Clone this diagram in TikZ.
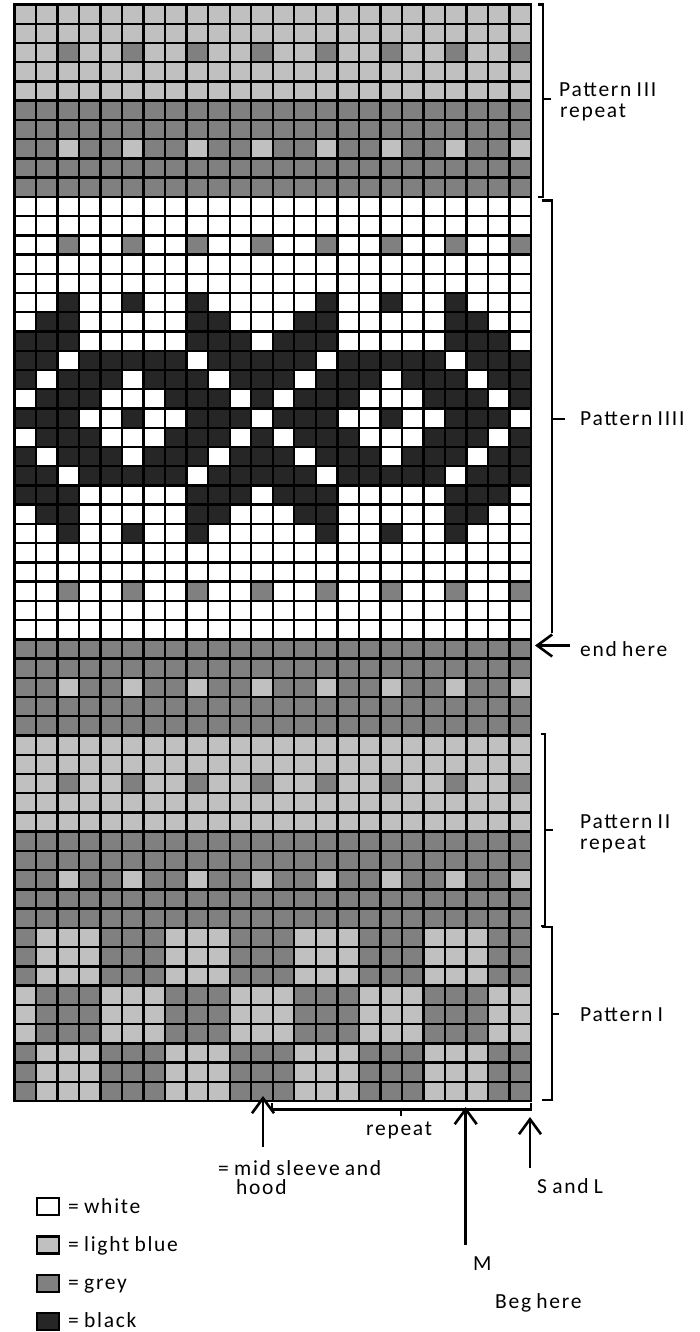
\documentclass[tikz,border=0pt]{standalone}
\usepackage{fontspec}
\setmainfont{Carlito}[LetterSpace=8,WordSpace=0.8]
\usetikzlibrary{arrows.meta}
\definecolor{cW}{HTML}{FFFFFF}
\definecolor{cL}{HTML}{C0C0C0}
\definecolor{cG}{HTML}{808080}
\definecolor{cB}{HTML}{262626}
\def\rowA{L,L,L,L,L,L,L,L,L,L,L,L,L,L,L,L,L,L,L,L,L,L,L,L}
\def\rowB{L,L,G,L,L,G,L,L,G,L,L,G,L,L,G,L,L,G,L,L,G,L,L,G}
\def\rowC{G,G,G,G,G,G,G,G,G,G,G,G,G,G,G,G,G,G,G,G,G,G,G,G}
\def\rowD{G,G,L,G,G,L,G,G,L,G,G,L,G,G,L,G,G,L,G,G,L,G,G,L}
\def\rowE{W,W,W,W,W,W,W,W,W,W,W,W,W,W,W,W,W,W,W,W,W,W,W,W}
\def\rowF{W,W,G,W,W,G,W,W,G,W,W,G,W,W,G,W,W,G,W,W,G,W,W,G}
\def\rowMa{W,W,B,W,W,B,W,W,B,W,W,W,W,W,B,W,W,B,W,W,B,W,W,W}
\def\rowMb{W,B,B,W,W,W,W,W,B,B,W,W,W,B,B,W,W,W,W,W,B,B,W,W}
\def\rowMc{B,B,B,W,W,W,W,W,B,B,B,W,B,B,B,W,W,W,W,W,B,B,B,W}
\def\rowMd{B,B,W,B,B,B,B,B,W,B,B,B,B,B,W,B,B,B,B,B,W,B,B,B}
\def\rowMe{B,W,B,B,B,W,B,B,B,W,B,B,B,W,B,B,B,W,B,B,B,W,B,B}
\def\rowMf{W,B,B,B,W,W,W,B,B,B,W,B,W,B,B,B,W,W,W,B,B,B,W,B}
\def\rowMg{B,B,B,W,W,B,W,W,B,B,B,W,B,B,B,W,W,B,W,W,B,B,B,W}
\def\rowPa{G,L,L,L,G,G,G,L,L,L,G,G,G,L,L,L,G,G,G,L,L,L,G,G}
\def\rowPb{L,G,G,G,L,L,L,G,G,G,L,L,L,G,G,G,L,L,L,G,G,G,L,L}
\def\gx{14.5}
\def\gy{4.5}
\def\cw{21.521}
\def\ch{19.237}
\tikzset{
  gridline/.style={line width=2.4pt, black, line cap=rect},
  lab/.style={inner sep=0pt, anchor=base west, font=\fontsize{21.5}{19}\selectfont},
  brk/.style={line width=2.2pt, black},
  arr/.style={line width=2.6pt, black, -{Straight Barb[length=15pt,width=22pt]}},
  legbox/.style={draw=black, line width=2.6pt, minimum width=22pt, minimum height=17pt, inner sep=0pt}
}
\begin{document}
\begin{tikzpicture}[x=1pt,y=-1pt]
\useasboundingbox (0,0) rectangle (700,1332);
% cells
\foreach \t [count=\r] in {A,A,B,A,A,C,C,D,C,C,E,E,F,E,E,Ma,Mb,Mc,Md,Me,Mf,Mg,Mf,Me,Md,Mc,Mb,Ma,E,E,F,E,E,C,C,D,C,C,A,A,B,A,A,C,C,D,C,C,Pa,Pa,Pa,Pb,Pb,Pb,Pa,Pa,Pa} {
  \expandafter\let\expandafter\currow\csname row\t\endcsname
  \foreach \c [count=\i] in \currow {
    \fill[c\c] ({\gx+(\i-1)*\cw},{\gy+(\r-1)*\ch}) rectangle ++(\cw,\ch);
  }
}
% grid lines
\foreach \i in {0,...,24} \draw[gridline] ({\gx+\i*\cw},\gy) -- ({\gx+\i*\cw},{\gy+57*\ch});
\foreach \r in {0,...,57} \draw[gridline] (\gx,{\gy+\r*\ch}) -- ({\gx+24*\cw},{\gy+\r*\ch});

% right brackets
\draw[brk] (538,4.5) -- (542.7,4.5) -- (542.7,197) -- (538,197);
\draw[brk] (542.7,99.3) -- (551,99.3);
\node[lab] (p3a) at (559,96.5) {Pattern III};
\node[lab] (p3b) at (560,117.5) {repeat};

\draw[brk] (541.7,200.5) -- (552.3,200.5) -- (552.3,633);
\draw[brk] (552.3,419) -- (565,419);
\node[lab] (p4) at (580,425) {Pattern IIII};

\coordinate (endTail) at (570,645.5);
\coordinate (endTip) at (535,645.5);
\draw[arr] (endTail) -- (endTip);
\node[lab] (endlab) at (580,656) {end here};

\draw[brk] (541,734) -- (545,734) -- (545,926) -- (541,926);
\draw[brk] (545,830) -- (552.7,830);
\node[lab] (p2a) at (580,828) {Pattern II};
\node[lab] (p2b) at (580,849) {repeat};

\draw[brk] (541.7,926.7) -- (552.3,926.7) -- (552.3,1100) -- (541.7,1100);
\draw[brk] (552.3,1014) -- (559,1014);
\node[lab] (p1) at (580,1021) {Pattern I};

% bottom repeat bracket
\draw[brk] (272,1103) -- (272,1109.5) -- (531,1109.5) -- (531,1103);
\draw[brk] (401,1109.5) -- (401,1115.5);
\node[lab] (rep) at (366,1135) {repeat};

% arrows
\coordinate (midTail) at (263,1147);
\coordinate (midTip) at (263,1096);
\draw[arr] (midTail) -- (midTip);
\node[lab] (midA) at (218,1175) {= mid sleeve and};
\node[lab] (midB) at (236,1194) {hood};

\coordinate (mTail) at (465.7,1245);
\coordinate (mTip) at (465.7,1107);
\draw[arr] (mTail) -- (mTip);
\node[lab] (mlab) at (473,1270) {M};
\node[lab] (beg) at (495,1308) {Beg here};

\coordinate (sTail) at (530,1168);
\coordinate (sTip) at (530,1117);
\draw[arr] (sTail) -- (sTip);
\node[lab] (slab) at (537,1193) {S and L};

% legend
\node[legbox, fill=cW] (legW) at (48,1206.5) {};
\node[legbox, fill=cL] (legL) at (48,1245) {};
\node[legbox, fill=cG] (legG) at (48,1283.5) {};
\node[legbox, fill=cB] (legB) at (48,1321.5) {};
\node[lab] (tW) at (68,1213) {= white};
\node[lab] (tL) at (68,1251) {= light blue};
\node[lab] (tG) at (68,1289) {= grey};
\node[lab] (tB) at (68,1327) {= black};
\end{tikzpicture}
\end{document}
